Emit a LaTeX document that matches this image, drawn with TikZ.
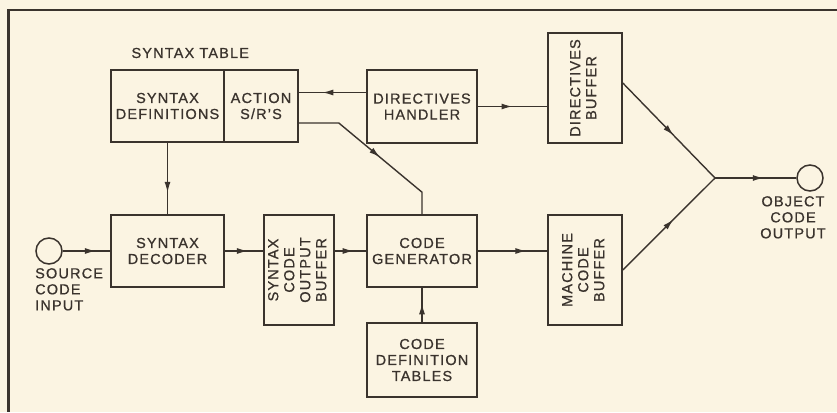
\documentclass[tikz,border=0pt]{standalone}
\usepackage{fontspec}
\setmainfont{Liberation Sans}[LetterSpace=8, FakeBold=0.8]
\usepackage{graphicx}
\usetikzlibrary{arrows.meta,decorations.markings}

\definecolor{ink}{HTML}{3A332D}
\definecolor{paper}{HTML}{FBF4E2}

\newcommand{\vlabel}[1]{\rotatebox{90}{\begin{tabular}{@{}c@{}}#1\end{tabular}}}

\tikzset{
  blk/.style={draw=ink, line width=1.6pt, fill=paper, inner sep=1pt, align=center},
  port/.style={draw=ink, line width=1.5pt, circle, minimum size=26pt, inner sep=0pt},
  wire/.style={draw=ink, line width=1.4pt},
  midarrow/.style={postaction={decorate},
    decoration={markings, mark=at position #1 with {\arrow{Latex[length=11pt,width=6pt]}}}},
}

\begin{document}
\begin{tikzpicture}[x=1pt, y=-1pt, font=\fontsize{14.5}{16}\selectfont, text=ink]
  \useasboundingbox (0,0) rectangle (837,412);
  \fill[paper] (0,0) rectangle (837,412);
  \draw[ink, line width=2.2pt] (837,10) -- (8.5,10) -- (8.5,412);

  % syntax table
  \node[anchor=west] (tblLbl) at (128,53) {SYNTAX TABLE};
  \node[blk, minimum width=113pt, minimum height=72pt] (synDef) at (167.5,106) {SYNTAX\\DEFINITIONS};
  \node[blk, minimum width=74pt, minimum height=72pt] (action) at (261,106) {ACTION\\S/R'S};

  % directives path
  \node[blk, minimum width=110pt, minimum height=73pt] (dirHand) at (422,106.5) {DIRECTIVES\\HANDLER};
  \node[blk, minimum width=74pt, minimum height=110pt] (dirBuf) at (585,88) {\vlabel{DIRECTIVES\\BUFFER}};

  % code path
  \node[blk, minimum width=113pt, minimum height=72pt] (synDec) at (167.5,251) {SYNTAX\\DECODER};
  \node[blk, minimum width=70pt, minimum height=110pt] (synBuf) at (299,270) {\vlabel{SYNTAX\\CODE\\OUTPUT\\BUFFER}};
  \node[blk, minimum width=110pt, minimum height=72pt] (codeGen) at (422,251) {CODE\\GENERATOR};
  \node[blk, minimum width=110pt, minimum height=74pt] (codeDef) at (422,360) {CODE\\DEFINITION\\TABLES};
  \node[blk, minimum width=74pt, minimum height=110pt] (macBuf) at (585,270) {\vlabel{MACHINE\\CODE\\BUFFER}};

  % input / output
  \node[port] (src) at (49,251) {};
  \node[anchor=north west, align=left, inner sep=0pt] (srcLbl) at (35,268) {SOURCE\\CODE\\INPUT};
  \node[port] (obj) at (810,178) {};
  \node[anchor=north, align=center, inner sep=0pt] (objLbl) at (793,196) {OBJECT\\CODE\\OUTPUT};
  \coordinate (join) at (715,178);

  \draw[wire, midarrow=0.7] (src) -- (synDec);
  \draw[wire, midarrow=0.7] (synDef) -- (synDec);
  \draw[wire, midarrow=0.6] (synDec.east) -- (synDec.east -| synBuf.west);
  \draw[wire, midarrow=0.6] (synBuf.east |- codeGen.west) -- (codeGen.west);
  \draw[wire, midarrow=0.55] (codeDef) -- (codeGen);
  \draw[wire, midarrow=0.7] (codeGen.east) -- (codeGen.east -| macBuf.west);
  \draw[wire, midarrow=0.5] (dirHand.east) -- (dirHand.east -| dirBuf.west);
  \draw[wire, midarrow=0.65] ([yshift=14pt]dirHand.west) -- ([yshift=14pt]dirHand.west -| action.east);
  \draw[wire, midarrow=0.55] ([yshift=-17pt]action.east) -- ++(40,0)
    -- ([yshift=22pt]codeGen.north) -- (codeGen.north);
  \draw[wire, midarrow=0.55] ([yshift=5pt]dirBuf.east) -- (join);
  \draw[wire, midarrow=0.55] (macBuf.east) -- (join);
  \draw[wire, midarrow=0.6] (join) -- (obj);
\end{tikzpicture}
\end{document}
